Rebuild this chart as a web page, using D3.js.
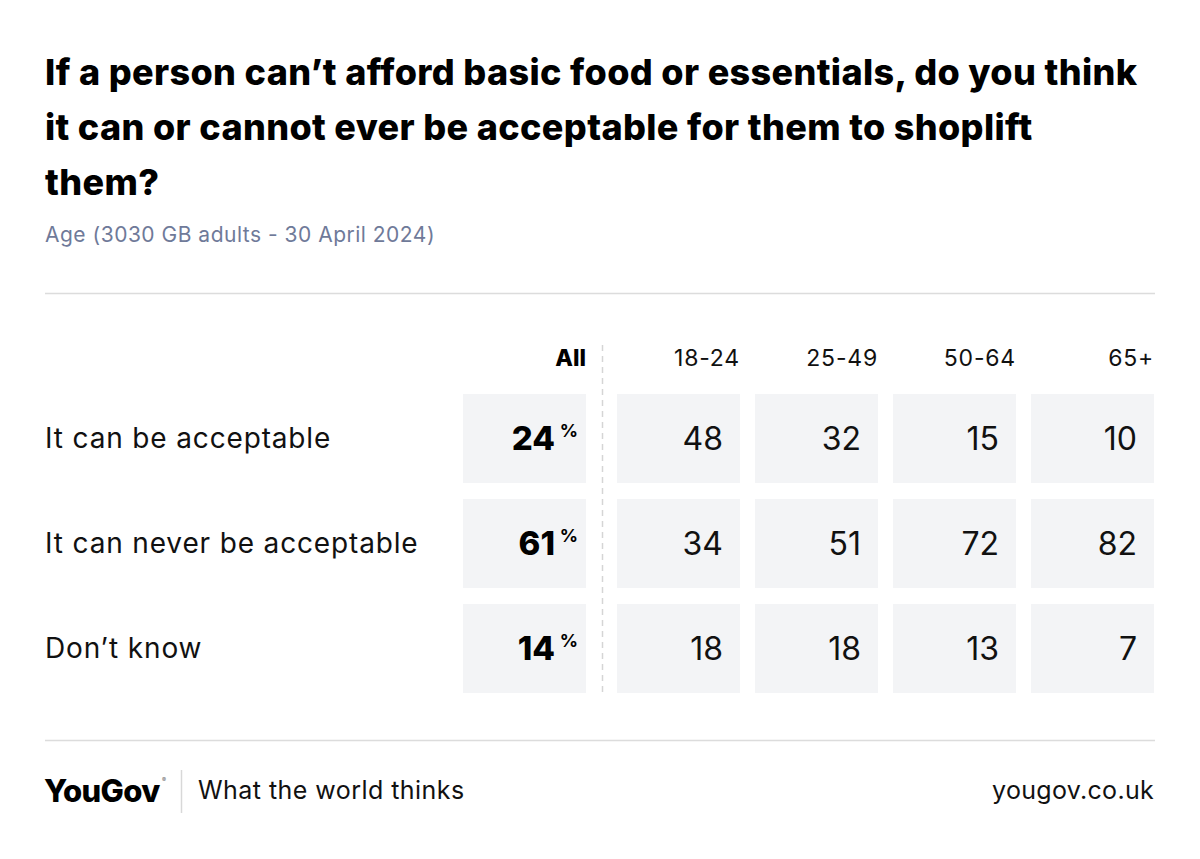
<!DOCTYPE html>
<html><head><meta charset="utf-8">
<script src="https://cdn.jsdelivr.net/npm/d3@7"></script>
<style>
html,body{margin:0;padding:0;background:#fff;}
svg{display:block;}
text{font-family:Inter, "Noto Sans", sans-serif;}
</style></head>
<body>
<script>
const titleLines = ["If a person can’t afford basic food or essentials, do you think","it can or cannot ever be acceptable for them to shoplift","them?"];
const subtitle = "Age (3030 GB adults - 30 April 2024)";
const rows = ["It can be acceptable","It can never be acceptable","Don’t know"];
const groups = ["18-24","25-49","50-64","65+"];
const allValues = [24,61,14];
const groupValues = [
  [48,32,15,10],
  [34,51,72,82],
  [18,18,13,7]
];

const W=1200,H=859;
const svg=d3.select("body").append("svg").attr("width",W).attr("height",H);

// Title
const tt=svg.append("g");
titleLines.forEach((l,i)=>{
  tt.append("text").attr("x",45).attr("y",85+i*55).text(l)
    .attr("font-size",36).attr("font-weight",800).attr("fill","#000").attr("letter-spacing","0.35");
});
svg.append("text").attr("x",45).attr("y",242).text(subtitle)
  .attr("font-size",21).attr("fill","#6f7a99").attr("letter-spacing","0.5");

svg.append("line").attr("x1",45).attr("x2",1155).attr("y1",293.5).attr("y2",293.5).attr("stroke","#dcdcdc").attr("stroke-width",1.5);
svg.append("line").attr("x1",45).attr("x2",1155).attr("y1",740.5).attr("y2",740.5).attr("stroke","#dcdcdc").attr("stroke-width",1.5);

// scales
const x=d3.scaleBand().domain(groups).range([617,1154]).paddingInner(15/138);
const y=d3.scaleBand().domain(rows).range([394,693]).paddingInner(16/105);
const allX=463, allW=123;
const cellFill="#f3f4f6";

// header
svg.append("text").attr("x",allX+allW).attr("y",358).attr("dy","0.35em").attr("text-anchor","end")
  .attr("font-size",23).attr("font-weight",800).text("All");
svg.selectAll(".hdr").data(groups).join("text").attr("class","hdr")
  .attr("x",d=>x(d)+x.bandwidth()).attr("y",358).attr("dy","0.35em").attr("text-anchor","end")
  .attr("font-size",23).attr("letter-spacing","0.8").attr("fill","#111").text(d=>d);

// dashed separator
svg.append("line").attr("x1",602.5).attr("x2",602.5).attr("y1",345).attr("y2",693)
  .attr("stroke","#d5d5d5").attr("stroke-width",1.5).attr("stroke-dasharray","6,5");

// row labels
svg.selectAll(".rl").data(rows).join("text").attr("class","rl")
  .attr("x",45).attr("y",d=>y(d)+y.bandwidth()/2).attr("dy","0.35em")
  .attr("font-size",28).attr("letter-spacing","0.85").attr("fill","#111").text(d=>d);

// All cells
rows.forEach((r,i)=>{
  svg.append("rect").attr("x",allX).attr("y",y(r)).attr("width",allW).attr("height",y.bandwidth()).attr("fill",cellFill);
  svg.append("text").attr("x",allX+allW-31).attr("y",y(r)+y.bandwidth()/2).attr("dy","0.35em")
    .attr("text-anchor","end").attr("font-size",33).attr("font-weight",800).attr("fill","#000").text(allValues[i]);
  svg.append("text").attr("x",allX+allW-8).attr("y",y(r)+y.bandwidth()/2-8).attr("dy","0.35em")
    .attr("text-anchor","end").attr("font-size",18).attr("font-weight",700).attr("fill","#000").text("%");
});

// group cells
rows.forEach((r,i)=>{
  groups.forEach((g,j)=>{
    svg.append("rect").attr("x",x(g)).attr("y",y(r)).attr("width",x.bandwidth()).attr("height",y.bandwidth()).attr("fill",cellFill);
    svg.append("text").attr("x",x(g)+x.bandwidth()-17).attr("y",y(r)+y.bandwidth()/2).attr("dy","0.35em")
      .attr("text-anchor","end").attr("font-size",32).attr("font-weight",400).attr("fill","#111").text(groupValues[i][j]);
  });
});

// footer
svg.append("text").attr("x",44).attr("y",802).attr("font-size",31).attr("font-weight",800).attr("letter-spacing","-0.6").attr("fill","#000").text("YouGov");
svg.append("text").attr("x",162).attr("y",782).attr("font-size",6).attr("fill","#666").text("®");
svg.append("line").attr("x1",181.5).attr("x2",181.5).attr("y1",770).attr("y2",813).attr("stroke","#d8d8d8").attr("stroke-width",1.5);
svg.append("text").attr("x",198).attr("y",799).attr("font-size",25).attr("letter-spacing","0.45").attr("fill","#111").text("What the world thinks");
svg.append("text").attr("x",1154).attr("y",799).attr("text-anchor","end").attr("font-size",25).attr("letter-spacing","0.3").attr("fill","#111").text("yougov.co.uk");
</script>
</body></html>
